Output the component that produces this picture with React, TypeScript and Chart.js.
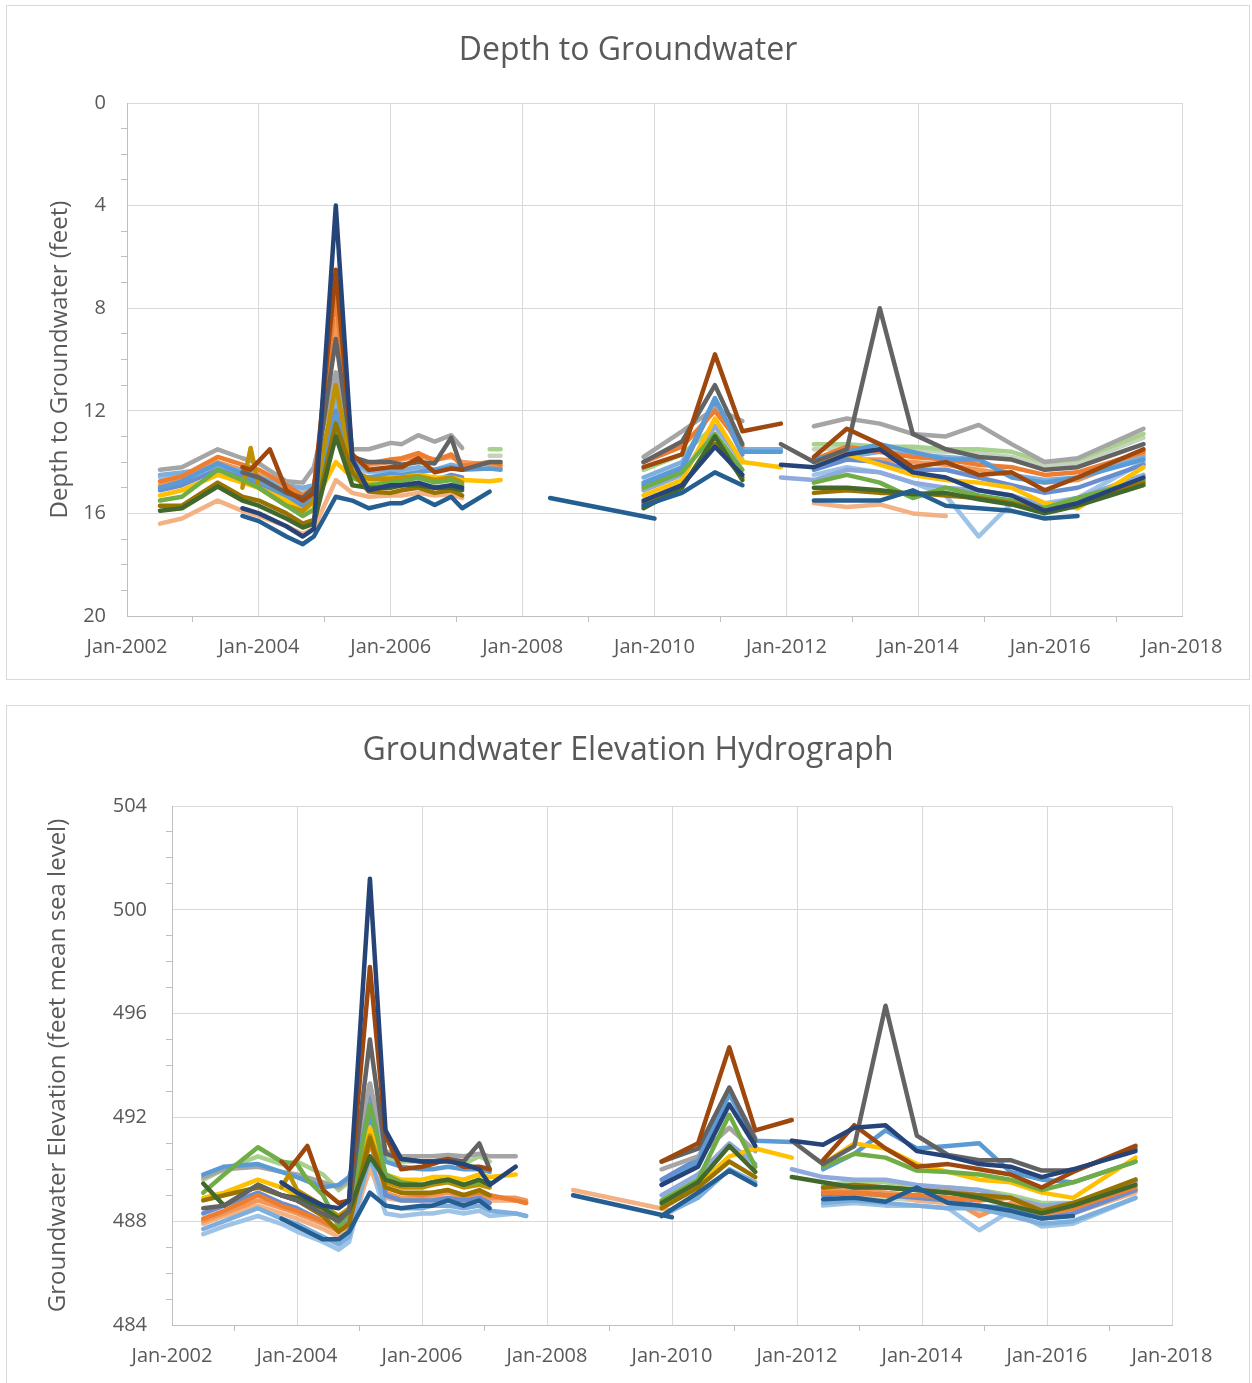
import React, { useEffect, useRef } from "react";
import { Chart, registerables } from "chart.js";

Chart.register(...registerables);

const _ = null;

// Sampling months (months after Jan-2002), one list per period of record
const monthsA = [6, 10, 16.5, 21, 22.5, 24, 26, 29, 32, 34, 38, 41, 44, 48, 50, 53, 56, 59, 61, 66, 68];
const monthsB = [77, 96];
const monthsC = [94, 101, 107, 112, 119];
const monthsD = [119, 125, 131, 137, 143, 149, 155, 161, 167, 173, 185];
const SEGMENTS = [monthsA, monthsB, monthsC, monthsD];

// x-axis tick values (months) and y ticks
const X_MIN = 0;
const X_MAX = 192;
const X_STEP = 12;
const X_MAJOR = 24;
const START_YEAR = 2002;

// ---------------- Depth to groundwater (feet) ----------------
// each row: period A (21) | B (2) | C (5) | D (11)
const depthPaleBlue = [14.6, 14.5, 14.3, 14.6, _, 14.8, _, 15.0, 15.1, 15.0, 11.8, 14.2, 14.4, 14.35, 14.35, 14.25, 14.35, 14.2, 14.3, _, _, _, _, _, _, _, _, _, _, 14.5, 14.2, 14.4, 14.8, 15.3, 16.9, 15.6, 15.6, 15.4, 14.0];
const depthSage = [_, _, _, _, _, _, _, _, _, _, _, _, _, _, _, _, _, _, _, 13.75, 13.75, _, _, _, _, _, _, _, _, 13.5, 13.45, 13.5, 13.55, 13.6, 13.65, 13.8, 14.15, 14.05, 13.05];
const depthLightGreen = [_, _, _, _, _, _, _, _, _, _, _, _, _, _, _, _, _, _, _, 13.5, 13.5, _, _, 14.3, 13.7, 12.6, 13.9, _, _, 13.3, 13.3, 13.4, 13.4, 13.5, 13.5, 13.6, 14.0, 13.9, 12.9];
const depthSteel = [_, _, _, _, _, _, _, _, _, _, _, _, _, _, _, _, _, _, _, _, _, _, _, 15.1, 14.5, 12.6, 14.0, _, 14.6, 14.7, 14.3, 14.4, 14.8, 15.0, 15.1, 15.3, 15.7, 15.4, 14.5];
const depthPeach = [16.4, 16.2, 15.5, 15.9, _, 16.1, _, 16.5, 16.8, 16.6, 14.7, 15.2, 15.35, 15.3, 15.3, 15.2, 15.3, 15.25, 15.4, _, _, _, _, _, _, _, _, _, _, 15.6, 15.75, 15.65, 16.0, 16.1, _, _, _, _, _];
const depthLightOrange = [14.9, 14.7, 14.0, 14.3, _, 14.5, _, 15.1, 15.4, 15.1, 8.5, 13.9, 14.1, 14.0, 13.9, 13.75, 13.9, 13.8, 14.0, 14.1, 14.2, _, _, _, _, _, _, _, _, 14.0, 13.9, 13.9, 14.0, 14.1, 14.3, 14.5, 14.8, 14.7, 13.7];
const depthLightBlue = [14.5, 14.4, 14.2, 14.35, _, 14.6, _, 14.9, 15.0, 14.9, 11.5, 14.0, 14.35, 14.3, 14.3, 14.2, 14.3, 14.1, 14.2, _, _, _, _, 14.6, 14.0, 11.8, 13.5, 13.5, _, 14.0, 13.8, 13.6, 13.7, 13.8, 13.9, 14.5, 14.7, 14.6, 13.8];
const depthPeriwinkle = [15.1, 14.9, 14.3, 14.6, _, 14.9, _, 15.4, 15.7, 15.4, 12.0, 14.5, 14.7, 14.7, 14.6, 14.6, 14.7, 14.5, 14.6, _, _, _, _, 14.9, 14.3, 11.6, 13.7, _, _, 14.3, 13.9, 14.0, 14.3, 14.3, 14.6, 14.9, 15.2, 15.0, 14.1];
const depthGray = [14.3, 14.2, 13.5, 13.85, _, 14.05, _, 14.75, 14.8, 14.2, 10.5, 13.5, 13.5, 13.25, 13.3, 12.95, 13.2, 12.95, 13.45, _, _, _, _, 13.8, 12.8, 11.9, 12.4, _, _, 12.6, 12.3, 12.5, 12.9, 13.0, 12.55, 13.3, 14.0, 13.85, 12.7];
const depthOrange = [14.75, 14.55, 13.8, 14.1, _, 14.3, _, 14.9, 15.3, 15.0, 7.5, 13.8, 14.05, 13.9, 13.85, 13.65, 13.95, 13.7, 14.15, 14.0, 14.1, _, _, 14.0, 13.4, 12.0, 13.4, _, _, 13.9, 13.4, 13.6, 13.8, 13.9, 14.1, 14.2, 14.5, 14.4, 13.6];
const depthBlue = [15.0, 14.75, 14.05, 14.45, _, 14.7, _, 15.3, 15.6, 15.3, 12.2, 14.5, 14.6, 14.45, 14.5, 14.4, 14.3, 14.2, 14.3, 14.25, 14.3, _, _, 14.8, 14.2, 11.5, 13.6, 13.6, _, 13.9, 13.6, 13.3, 13.6, 13.9, 13.9, 14.6, 14.8, 14.6, 13.9];
const depthGold = [15.3, 15.1, 14.5, 14.8, _, 15.0, _, 15.5, 15.9, 15.6, 14.0, 14.6, 14.75, 14.6, 14.6, 14.5, 14.6, 14.6, 14.7, 14.75, 14.7, _, _, 15.3, 14.7, 12.3, 14.0, 14.2, _, 14.0, 13.7, 14.1, 14.5, 14.7, 14.8, 15.0, 15.6, 15.8, 14.2];
const depthDarkGold = [_, _, _, 15.0, 13.45, 15.0, _, 15.7, 15.9, 15.5, 11.0, 14.3, 14.65, 14.65, 14.6, 14.55, 14.7, 14.6, 14.8, _, _, _, _, _, _, _, _, _, _, _, _, _, _, _, _, _, _, _, _];
const depthGreen = [15.5, 15.35, 14.3, 14.7, _, 15.0, _, 15.7, 16.1, 15.85, 12.8, 14.6, 14.9, 14.8, 14.75, 14.6, 14.8, 14.7, 14.9, _, _, _, _, 15.0, 14.4, 12.9, 14.3, _, _, 14.8, 14.5, 14.8, 15.4, 15.0, 15.3, 15.5, 15.8, 15.4, 14.7];
const depthOlive = [15.7, 15.7, 14.8, 15.35, _, 15.5, _, 16.0, 16.4, 16.25, 12.5, 14.4, 15.15, 15.2, 15.1, 15.0, 15.2, 15.1, 15.3, _, _, _, _, 15.6, 14.9, 13.3, 14.6, _, _, 15.2, 15.1, 15.2, 15.2, 15.3, 15.4, 15.6, 15.9, 15.6, 14.8];
const depthDarkGreen = [15.9, 15.8, 14.95, 15.5, _, 15.7, _, 16.2, 16.55, 16.4, 13.0, 14.9, 15.0, 15.0, 14.9, 14.9, 15.0, 15.0, 15.1, _, _, _, _, 15.8, 15.0, 13.0, 14.7, _, _, 15.0, 15.0, 15.1, 15.25, 15.2, 15.45, 15.65, 16.0, 15.7, 14.9];
const depthDarkBlue = [_, _, _, 16.1, _, 16.3, _, 16.9, 17.2, 16.9, 15.35, 15.5, 15.8, 15.6, 15.6, 15.35, 15.67, 15.35, 15.8, 15.15, _, 15.4, 16.2, 15.7, 15.2, 14.4, 14.9, _, _, 15.5, 15.5, 15.5, 15.1, 15.7, 15.8, 15.9, 16.2, 16.1, _];
const depthDarkGray = [_, _, _, 14.4, _, 14.6, _, 15.2, 15.4, 15.0, 9.2, 13.8, 14.0, 14.0, 14.1, 14.0, 14.05, 13.05, 14.3, 14.0, 14.0, _, _, 14.0, 13.2, 11.0, 13.3, _, 13.3, 14.0, 13.5, 8.0, 12.9, 13.5, 13.8, 13.9, 14.3, 14.2, 13.3];
const depthBrown = [_, _, _, 14.2, 14.3, _, 13.5, 15.1, 15.5, 15.2, 6.5, 13.7, 14.3, 14.2, 14.2, 13.85, 14.4, 14.25, 14.3, _, _, _, _, 14.2, 13.7, 9.8, 12.8, 12.5, _, 13.8, 12.7, 13.3, 14.2, 14.0, 14.5, 14.4, 15.1, 14.6, 13.5];
const depthNavy = [_, _, _, 15.8, _, 16.0, _, 16.5, 16.9, 16.6, 4.0, 13.9, 15.1, 14.9, 14.9, 14.8, 15.0, 14.9, 15.0, _, _, _, _, 15.5, 14.9, 13.4, 14.5, _, 14.1, 14.2, 13.7, 13.5, 14.4, 14.6, 15.1, 15.3, 15.9, 15.6, 14.6];

// ---------------- Groundwater elevation (feet msl) ----------------
const elevPaleBlue = [487.5, 487.8, 488.2, 487.9, _, 487.6, _, 487.2, 486.9, 487.2, 490.2, 488.3, 488.2, 488.3, 488.3, 488.4, 488.3, 488.4, 488.2, 488.3, 488.2, _, _, _, _, _, _, _, _, 488.6, 488.7, 488.6, 488.6, 488.5, 487.65, 488.4, 487.8, 487.9, 488.9];
const elevSage = [_, _, _, _, _, _, _, _, _, _, _, _, _, _, _, _, _, _, _, _, _, _, _, _, _, _, _, _, _, 488.8, 488.9, 488.9, 488.8, 488.7, 488.6, 488.4, 488.2, 488.3, 489.2];
const elevLightGreen = [489.6, 490.0, 490.5, 490.2, _, 490.3, _, 489.8, 489.2, 489.5, 492.8, 490.4, 490.3, 490.3, 490.3, 490.4, 490.2, 490.5, 490.3, _, _, _, _, _, _, _, _, _, _, 489.4, 489.5, 489.5, 489.3, 489.3, 489.2, 489.0, 488.7, 488.7, 489.5];
const elevSteel = [_, _, _, _, _, _, _, _, _, _, _, _, _, _, _, _, _, _, _, _, _, _, _, 489.0, 489.8, 491.0, 490.2, _, 490.0, 489.7, 489.6, 489.6, 489.4, 489.3, 489.2, 488.9, 488.6, 488.7, 489.5];
const elevPeach = [487.9, 488.2, 488.6, 488.3, _, 488.1, _, 487.7, 487.4, 487.6, 490.0, 488.9, 488.8, 488.8, 488.9, 488.9, 488.8, 488.9, 488.8, 488.8, 488.7, 489.2, 488.4, _, _, _, _, _, _, 489.1, 489.0, 489.1, 488.8, 488.7, 488.4, 488.6, 488.1, 488.3, 489.1];
const elevLightOrange = [488.0, 488.3, 488.8, 488.5, _, 488.3, _, 487.9, 487.6, 487.8, 491.4, 489.1, 488.9, 488.9, 489.0, 489.1, 488.9, 489.0, 488.9, 488.9, 488.8, _, _, _, _, _, _, _, _, 489.2, 489.2, 489.1, 489.0, 488.9, 488.2, 488.7, 488.2, 488.4, 489.2];
const elevLightBlue = [487.7, 488.0, 488.5, 488.1, _, 487.9, _, 487.4, 487.1, 487.4, 490.5, 488.6, 488.5, 488.5, 488.6, 488.6, 488.5, 488.6, 488.4, 488.3, 488.2, _, _, 488.2, 488.9, 490.0, 489.5, _, _, 488.7, 488.8, 488.7, 488.6, 488.5, 488.5, 488.2, 487.9, 488.0, 488.9];
const elevPeriwinkle = [488.3, 488.6, 489.1, 488.7, _, 488.5, _, 488.0, 487.7, 488.0, 493.3, 489.0, 488.8, 488.8, 488.8, 488.9, 488.8, 488.9, 488.7, _, _, _, _, 489.6, 490.4, 493.1, 491.2, _, _, 489.0, 489.1, 489.0, 488.9, 488.8, 488.6, 488.5, 488.1, 488.3, 489.2];
const elevGray = [489.7, 490.0, 490.1, 489.9, _, 489.8, _, 489.5, 489.3, 489.6, 493.3, 490.7, 490.5, 490.5, 490.5, 490.55, 490.5, 490.6, 490.5, 490.5, _, _, _, 490.0, 490.5, 491.6, 490.7, _, _, 489.3, 489.4, 489.3, 489.2, 489.2, 489.0, 488.9, 488.5, 488.6, 489.6];
const elevOrange = [488.1, 488.4, 489.0, 488.6, _, 488.4, _, 488.0, 487.7, 487.9, 491.0, 489.3, 489.1, 489.0, 489.1, 489.2, 489.0, 489.1, 489.0, 488.8, 488.7, _, _, _, _, _, _, _, _, 489.1, 489.1, 489.0, 489.0, 488.9, 488.8, 488.9, 488.3, 488.5, 489.3];
const elevBlue = [489.8, 490.1, 490.2, 489.9, _, 489.7, _, 489.3, 489.4, 489.7, 492.0, 490.3, 490.1, 490.0, 490.0, 490.1, 490.0, 490.0, 489.9, _, _, _, _, 489.4, 490.3, 492.9, 491.1, 491.05, _, 490.0, 490.6, 491.5, 490.8, 490.9, 491.0, 489.9, 489.6, 489.5, 490.3];
const elevGold = [488.9, 489.1, 489.6, 489.3, _, 489.0, _, 488.5, 488.0, 488.3, 491.6, 489.8, 489.6, 489.6, 489.7, 489.7, 489.6, 489.8, 489.7, 489.8, _, _, _, 488.6, 489.4, 490.5, 490.8, 490.45, _, 490.2, 491.0, 490.8, 490.2, 489.9, 489.6, 489.5, 489.1, 488.9, 490.45];
const elevDarkGold = [_, _, _, 489.3, 489.8, 489.2, _, 488.6, 488.2, 488.5, 491.3, 489.5, 489.3, 489.3, 489.4, 489.5, 489.3, 489.4, 489.3, _, _, _, _, _, _, _, _, _, _, _, _, _, _, _, _, _, _, _, _];
const elevGreen = [489.1, 489.8, 490.85, 490.3, _, 490.2, 489.6, 489.0, 487.8, 488.3, 492.5, 489.8, 489.5, 489.4, 489.5, 489.6, 489.4, 489.5, 489.5, _, _, _, _, 488.8, 489.6, 492.1, 490.1, _, _, 490.1, 490.6, 490.45, 489.95, 489.9, 489.8, 489.6, 489.2, 489.5, 490.3];
const elevOlive = [488.8, 489.0, 489.3, 489.0, _, 488.8, _, 488.2, 487.6, 487.9, 491.2, 489.3, 489.1, 489.1, 489.1, 489.2, 489.0, 489.2, 489.0, _, _, _, _, 488.5, 489.3, 490.3, 489.7, _, _, 489.3, 489.4, 489.3, 489.2, 489.1, 489.0, 488.9, 488.4, 488.7, 489.6];
const elevDarkGreen = [489.45, 488.6, 489.4, 489.0, _, 488.9, _, 488.5, 488.1, 488.4, 490.5, 489.6, 489.4, 489.4, 489.5, 489.6, 489.4, 489.6, 489.4, _, _, _, _, 488.7, 489.5, 490.9, 489.9, _, 489.7, 489.5, 489.3, 489.3, 489.2, 489.1, 488.9, 488.6, 488.3, 488.6, 489.4];
const elevDarkBlue = [_, _, _, 488.1, _, 487.8, _, 487.3, 487.3, 487.6, 489.1, 488.6, 488.5, 488.6, 488.6, 488.8, 488.6, 488.8, 488.5, _, _, 489.0, 488.15, 488.2, 489.1, 489.95, 489.4, _, _, 488.85, 488.9, 488.75, 489.3, 488.7, 488.6, 488.4, 488.1, 488.2, _];
const elevDarkGray = [488.5, 488.6, 489.4, 489.0, _, 488.8, _, 488.3, 488.0, 488.4, 495.0, 490.6, 490.4, 490.3, 490.3, 490.4, 490.3, 491.0, 490.0, _, _, _, _, 490.3, 490.8, 493.15, 491.1, _, 491.1, 490.2, 490.9, 496.3, 491.3, 490.55, 490.35, 490.35, 489.95, 489.95, 490.8];
const elevBrown = [_, _, _, 490.3, 490.0, _, 490.9, 489.2, 488.7, 488.8, 497.8, 491.3, 490.0, 490.1, 490.2, 490.4, 490.1, 490.1, 490.0, _, _, _, _, 490.3, 491.0, 494.7, 491.5, 491.9, _, 490.35, 491.7, 490.8, 490.1, 490.2, 490.0, 489.8, 489.3, 489.9, 490.9];
const elevNavy = [_, _, _, 489.5, _, 489.1, _, 488.6, 488.5, 488.8, 501.2, 491.5, 490.4, 490.3, 490.3, 490.3, 490.2, 490.0, 489.4, 490.1, _, _, _, 489.4, 490.1, 492.5, 490.9, _, 491.1, 490.95, 491.6, 491.7, 490.7, 490.5, 490.2, 490.1, 489.7, 490.0, 490.7];

// Series colours (drawn bottom -> top)
const COLORS = [
  "#9DC3E6", "#C5D3BC", "#A9D18E", "#8FAADC", "#F4B183", "#F1975A", "#7CAFDD",
  "#698ED0", "#A5A5A5", "#ED7D31", "#5B9BD5", "#FFC000", "#BF9000", "#70AD47",
  "#997300", "#43682B", "#255E91", "#636363", "#9E480E", "#264478",
];

const DEPTH_SERIES = [
  depthPaleBlue, depthSage, depthLightGreen, depthSteel, depthPeach, depthLightOrange, depthLightBlue,
  depthPeriwinkle, depthGray, depthOrange, depthBlue, depthGold, depthDarkGold, depthGreen,
  depthOlive, depthDarkGreen, depthDarkBlue, depthDarkGray, depthBrown, depthNavy,
];
const ELEV_SERIES = [
  elevPaleBlue, elevSage, elevLightGreen, elevSteel, elevPeach, elevLightOrange, elevLightBlue,
  elevPeriwinkle, elevGray, elevOrange, elevBlue, elevGold, elevDarkGold, elevGreen,
  elevOlive, elevDarkGreen, elevDarkBlue, elevDarkGray, elevBrown, elevNavy,
];

const FONT = "'Open Sans', 'Noto Sans', 'DejaVu Sans', sans-serif";
const TEXT = "#595959";
const GRID = "#D9D9D9";
const AXIS = "#BFBFBF";
const CLEAR = "rgba(0,0,0,0)";

function toPoints(values: (number | null)[]) {
  const pts: { x: number; y: number | null }[] = [];
  let i = 0;
  SEGMENTS.forEach((seg) => {
    let any = false;
    seg.forEach((m) => {
      const v = values[i++];
      if (v !== null && v !== undefined) {
        pts.push({ x: m, y: v });
        any = true;
      }
    });
    if (any) pts.push({ x: seg[seg.length - 1], y: null });
  });
  return pts;
}

type Cfg = {
  title: string;
  yTitle: string;
  yMin: number;
  yMax: number;
  yMajor: number;
  reverse: boolean;
  series: (number | null)[][];
  width: number;
  height: number;
  rightSpace: number;
  titleTop: number;
  titleBottom: number;
  yWidth: number;
  xHeight: number;
  yTitlePad: number;
  yTickPad: number;
};

function HydroChart({ cfg }: { cfg: Cfg }) {
  const ref = useRef<HTMLCanvasElement | null>(null);
  useEffect(() => {
    if (!ref.current) return;
    const datasets = cfg.series
      .map((vals, k) => ({
        label: "S" + (k + 1),
        data: toPoints(vals),
        borderColor: COLORS[k],
        backgroundColor: COLORS[k],
        borderWidth: 4.5,
        pointRadius: 0,
        tension: 0,
        spanGaps: false,
        fill: false,
        borderJoinStyle: "round" as const,
        borderCapStyle: "round" as const,
      }))
      .reverse();
    const chart = new Chart(ref.current, {
      type: "line",
      data: { datasets },
      options: {
        animation: false,
        responsive: false,
        maintainAspectRatio: false,
        events: [],
        layout: { padding: 0 },
        plugins: {
          legend: { display: false },
          tooltip: { enabled: false },
          title: {
            display: true,
            text: cfg.title,
            color: TEXT,
            font: { family: FONT, size: 32, weight: "normal" },
            padding: { top: cfg.titleTop, bottom: cfg.titleBottom },
          },
        },
        scales: {
          x: {
            type: "linear",
            min: X_MIN,
            max: X_MAX,
            afterFit: (s: any) => {
              s.height = cfg.xHeight;
            },
            ticks: {
              stepSize: X_STEP,
              autoSkip: false,
              maxTicksLimit: 100,
              maxRotation: 0,
              minRotation: 0,
              color: TEXT,
              padding: 13,
              font: { family: FONT, size: 20 },
              callback: (v: any) =>
                Number(v) % X_MAJOR === 0 ? "Jan-" + (START_YEAR + Number(v) / 12) : "",
            },
            grid: {
              color: (ctx: any) => (ctx.tick && ctx.tick.value % X_MAJOR !== 0 ? CLEAR : GRID),
              tickColor: (ctx: any) => (ctx.tick && ctx.tick.value % X_MAJOR !== 0 ? AXIS : CLEAR),
              tickLength: 6,
              lineWidth: 1,
            },
            border: { color: AXIS, width: 1 },
          },
          y: {
            type: "linear",
            position: "left",
            min: cfg.yMin,
            max: cfg.yMax,
            reverse: cfg.reverse,
            afterFit: (s: any) => {
              s.width = cfg.yWidth;
            },
            title: {
              display: true,
              text: cfg.yTitle,
              color: TEXT,
              font: { family: FONT, size: 24 },
              padding: { top: cfg.yTitlePad, bottom: 0 },
            },
            ticks: {
              stepSize: 1,
              autoSkip: false,
              maxTicksLimit: 100,
              color: TEXT,
              padding: cfg.yTickPad,
              font: { family: FONT, size: 20 },
              callback: (v: any) => ((Number(v) - cfg.yMin) % cfg.yMajor === 0 ? String(v) : ""),
            },
            grid: {
              color: (ctx: any) =>
                ctx.tick && (ctx.tick.value - cfg.yMin) % cfg.yMajor !== 0 ? CLEAR : GRID,
              tickColor: (ctx: any) =>
                ctx.tick && (ctx.tick.value - cfg.yMin) % cfg.yMajor !== 0 ? AXIS : CLEAR,
              tickLength: 6,
              lineWidth: 1,
            },
            border: { color: AXIS, width: 1 },
          },
          // empty right-hand spacer so the title stays centred on the whole chart
          spacer: {
            type: "linear",
            position: "right",
            display: true,
            afterFit: (s: any) => {
              s.width = cfg.rightSpace;
            },
            grid: { display: false, drawTicks: false },
            border: { display: false },
            ticks: { display: false },
          },
        },
      } as any,
    });
    return () => chart.destroy();
  }, [cfg]);
  return (
    <canvas
      ref={ref}
      width={cfg.width}
      height={cfg.height}
      style={{ display: "block", width: cfg.width, height: cfg.height }}
    />
  );
}

const TOP_CFG: Cfg = {
  title: "Depth to Groundwater",
  yTitle: "Depth to Groundwater (feet)",
  yMin: 0,
  yMax: 20,
  yMajor: 4,
  reverse: true,
  series: DEPTH_SERIES,
  width: 1242,
  height: 673,
  rightSpace: 67,
  titleTop: 26,
  titleBottom: 32.6,
  yWidth: 120,
  xHeight: 63,
  yTitlePad: 38.6,
  yTickPad: 15,
};

const BOTTOM_CFG: Cfg = {
  title: "Groundwater Elevation Hydrograph",
  yTitle: "Groundwater Elevation (feet mean sea level)",
  yMin: 484,
  yMax: 504,
  yMajor: 4,
  reverse: false,
  series: ELEV_SERIES,
  width: 1242,
  height: 677,
  rightSpace: 77,
  titleTop: 26,
  titleBottom: 35.6,
  yWidth: 165,
  xHeight: 58,
  yTitlePad: 36.6,
  yTickPad: 19,
};

export default function App() {
  return (
    <div
      style={{
        position: "absolute",
        left: 0,
        top: 0,
        width: 1252,
        height: 1383,
        background: "#ffffff",
        overflow: "hidden",
      }}
    >
      <div
        style={{
          position: "absolute",
          left: 6,
          top: 5,
          width: 1244,
          height: 675,
          boxSizing: "border-box",
          border: "1px solid #D9D9D9",
          background: "#fff",
        }}
      >
        <HydroChart cfg={TOP_CFG} />
      </div>
      <div
        style={{
          position: "absolute",
          left: 6,
          top: 705,
          width: 1244,
          height: 678,
          boxSizing: "border-box",
          borderTop: "1px solid #D9D9D9",
          borderLeft: "1px solid #D9D9D9",
          borderRight: "1px solid #D9D9D9",
          background: "#fff",
        }}
      >
        <HydroChart cfg={BOTTOM_CFG} />
      </div>
    </div>
  );
}
